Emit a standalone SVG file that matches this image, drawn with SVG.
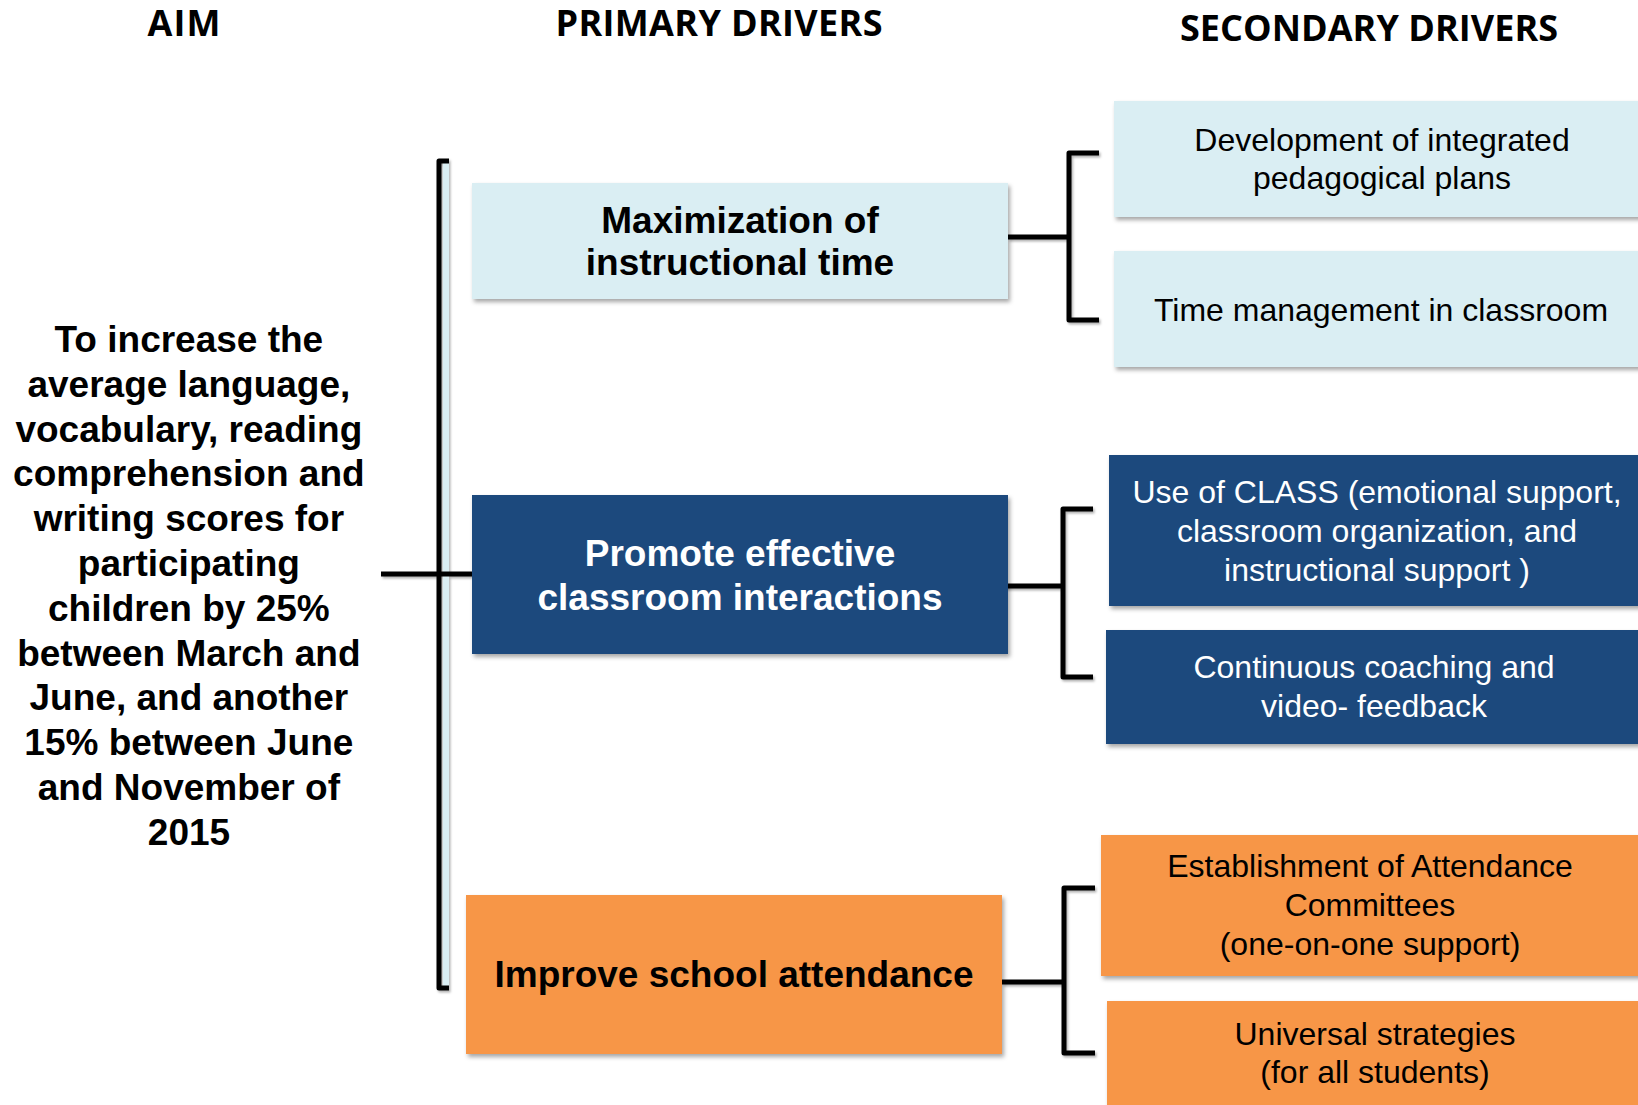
<svg xmlns="http://www.w3.org/2000/svg" width="1638" height="1105" viewBox="0 0 1638 1105">
  <defs>
    <filter id="shadow" x="-5%" y="-10%" width="115%" height="130%">
      <feDropShadow dx="2" dy="3" stdDeviation="2" flood-color="#000" flood-opacity="0.35"/>
    </filter>
    <filter id="lineShadow" x="-5%" y="-5%" width="115%" height="115%">
      <feDropShadow dx="1.5" dy="2" stdDeviation="1.2" flood-color="#000" flood-opacity="0.3"/>
    </filter>
    <style>
      .head { font-family: "Open Sans", "Liberation Sans", sans-serif; font-weight: 700; font-size: 36px; fill: #000; text-anchor: middle; }
      .aim { font-family: "Liberation Sans", Arial, sans-serif; font-weight: 700; font-size: 37px; fill: #000; text-anchor: middle; }
      .prim { font-family: "Liberation Sans", Arial, sans-serif; font-weight: 700; font-size: 37px; text-anchor: middle; }
      .sec { font-family: "Liberation Sans", Arial, sans-serif; font-size: 32px; text-anchor: middle; }
      .light { fill: #DAEEF3; }
      .dark { fill: #1F497D; }
      .orange { fill: #F79646; }
      .ink { fill: #000; }
      .white { fill: #fff; }
      .conn { fill: none; stroke: #000; stroke-width: 5; stroke-linejoin: round; }
    </style>
  </defs>

  <rect width="1638" height="1105" fill="#fff"/>

  <!-- column headings -->
  <g id="headings">
    <text class="head" x="184" y="36" textLength="73">AIM</text>
    <text class="head" x="719" y="36" textLength="327">PRIMARY DRIVERS</text>
    <text class="head" x="1369" y="41" textLength="378">SECONDARY DRIVERS</text>
  </g>

  <!-- connectors and brackets -->
  <g id="connectors" filter="url(#lineShadow)">
    <rect x="443" y="163" width="6" height="823" fill="#DAEEF3"/>
    <path class="conn" d="M449,161 H439 V988 H449"/>
    <path class="conn" d="M381,574 H472"/>
    <!-- time bracket -->
    <path class="conn" d="M1008,237 H1069"/>
    <path class="conn" d="M1099,153 H1069 V320 H1099"/>
    <!-- interactions bracket -->
    <path class="conn" d="M1003,586 H1063"/>
    <path class="conn" d="M1093,509 H1063 V677 H1093"/>
    <!-- attendance bracket -->
    <path class="conn" d="M1002,982 H1064"/>
    <path class="conn" d="M1095,888 H1064 V1053 H1095"/>
  </g>

  <!-- aim -->
  <g id="aim">
    <text class="aim">
      <tspan x="194" y="352">To increase the</tspan>
      <tspan x="194" y="397">average language,</tspan>
      <tspan x="194" y="442">vocabulary, reading</tspan>
      <tspan x="194" y="486">comprehension and</tspan>
      <tspan x="194" y="531">writing scores for</tspan>
      <tspan x="194" y="576">participating</tspan>
      <tspan x="194" y="621">children by 25%</tspan>
      <tspan x="194" y="666">between March and</tspan>
      <tspan x="194" y="710">June, and another</tspan>
      <tspan x="194" y="755">15% between June</tspan>
      <tspan x="194" y="800">and November of</tspan>
      <tspan x="189" y="845">2015</tspan>
    </text>
  </g>

  <!-- primary drivers -->
  <g id="primary-time">
    <rect class="light" x="472" y="183" width="536" height="116" filter="url(#shadow)"/>
    <text class="prim ink"><tspan x="740" y="233">Maximization of</tspan><tspan x="740" y="275">instructional time</tspan></text>
  </g>
  <g id="primary-interactions">
    <rect class="dark" x="472" y="495" width="536" height="159" filter="url(#shadow)"/>
    <text class="prim white"><tspan x="740" y="566">Promote effective</tspan><tspan x="740" y="610">classroom interactions</tspan></text>
  </g>
  <g id="primary-attendance">
    <rect class="orange" x="466" y="895" width="536" height="159" filter="url(#shadow)"/>
    <text class="prim ink"><tspan x="734" y="987">Improve school attendance</tspan></text>
  </g>

  <!-- secondary drivers -->
  <g id="secondary-plans">
    <rect class="light" x="1114" y="101" width="530" height="116" filter="url(#shadow)"/>
    <text class="sec ink"><tspan x="1382" y="151">Development of integrated</tspan><tspan x="1382" y="189">pedagogical plans</tspan></text>
  </g>
  <g id="secondary-time-management">
    <rect class="light" x="1114" y="251" width="530" height="116" filter="url(#shadow)"/>
    <text class="sec ink"><tspan x="1381" y="321">Time management in classroom</tspan></text>
  </g>
  <g id="secondary-class">
    <rect class="dark" x="1109" y="455" width="535" height="151" filter="url(#shadow)"/>
    <text class="sec white"><tspan x="1377" y="503">Use of CLASS (emotional support,</tspan><tspan x="1377" y="542">classroom organization, and</tspan><tspan x="1377" y="581">instructional support )</tspan></text>
  </g>
  <g id="secondary-coaching">
    <rect class="dark" x="1106" y="630" width="538" height="114" filter="url(#shadow)"/>
    <text class="sec white"><tspan x="1374" y="678">Continuous coaching and</tspan><tspan x="1374" y="717">video- feedback</tspan></text>
  </g>
  <g id="secondary-committees">
    <rect class="orange" x="1101" y="835" width="543" height="141" filter="url(#shadow)"/>
    <text class="sec ink"><tspan x="1370" y="877">Establishment of Attendance</tspan><tspan x="1370" y="916">Committees</tspan><tspan x="1370" y="955">(one-on-one support)</tspan></text>
  </g>
  <g id="secondary-universal">
    <rect class="orange" x="1107" y="1001" width="537" height="110" filter="url(#shadow)"/>
    <text class="sec ink"><tspan x="1375" y="1045">Universal strategies</tspan><tspan x="1375" y="1083">(for all students)</tspan></text>
  </g>
</svg>
